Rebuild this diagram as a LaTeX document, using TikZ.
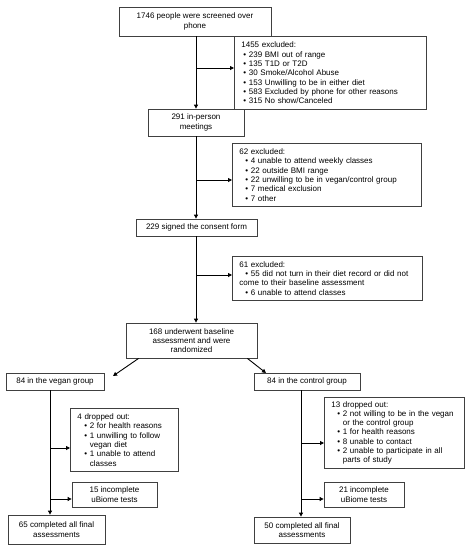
\documentclass[tikz,border=0pt]{standalone}
\usepackage{fontspec}
\setmainfont{Liberation Sans}
\usetikzlibrary{arrows.meta}
\newcommand{\bul}[1][6pt]{\hspace*{#1}\textbullet\ }
\newcommand{\cnt}[1][6pt]{\hspace*{#1}\phantom{\textbullet\ }}

\begin{document}
\begin{tikzpicture}[x=1pt,y=-1pt,
	box/.style={draw=black!75, line width=0.8pt, fill=white, inner sep=2pt, align=center,
		font=\fontsize{8}{9.3}\selectfont},
	list/.style={box, anchor=north west, align=left, inner xsep=7pt},
	arr/.style={-{Triangle[length=4pt,width=4pt]}, line width=0.9pt}]
	\useasboundingbox[fill=white] (0,0) rectangle (471,550);
	% main column
	\node[box, minimum width=152pt, minimum height=29pt] (screen) at (195,21.5) {1746 people were screened over\\phone};
	\node[list, text width=178pt, minimum height=73pt] (exA) at (234,36) {1455 excluded:\\
		\bul[2pt]239 BMI out of range\\
		\bul[2pt]135 T1D or T2D\\
		\bul[2pt]30 Smoke/Alcohol Abuse\\
		\bul[2pt]153 Unwilling to be in either diet\\
		\bul[2pt]583 Excluded by phone for other reasons\\
		\bul[2pt]315 No show/Canceled};
	\node[box, minimum width=96pt, minimum height=27pt] (meet) at (196,122.5) {291 in-person\\meetings};
	\node[list, text width=175pt, minimum height=63pt] (exB) at (232,143) {62 excluded:\\
		\bul 4 unable to attend weekly classes\\
		\bul 22 outside BMI range\\
		\bul 22 unwilling to be in vegan/control group\\
		\bul 7 medical exclusion\\
		\bul 7 other};
	\node[box, minimum width=121pt, minimum height=17pt] (consent) at (196.5,227.5) {229 signed the consent form};
	\node[list, text width=176pt, minimum height=44pt] (exC) at (232,256) {61 excluded:\\
		\bul 55 did not turn in their diet record or did not\\
		come to their baseline assessment\\
		\bul 6 unable to attend classes};
	\node[box, minimum width=131pt, minimum height=35pt] (rand) at (191.5,340.5) {168 underwent baseline\\assessment and were\\randomized};
	\coordinate (jA) at (196,68);
	\coordinate (jB) at (196,180);
	\coordinate (jC) at (196,275);
	\draw[arr] (screen.south -| jA) -- (meet.north -| jA);
	\draw[arr] (jA) -- (jA -| exA.west);
	\draw[arr] (meet.south -| jB) -- (consent.north -| jB);
	\draw[arr] (jB) -- (jB -| exB.west);
	\draw[arr] (consent.south -| jC) -- (rand.north -| jC);
	\draw[arr] (jC) -- (jC -| exC.west);
	% vegan group
	\node[box, minimum width=98pt, minimum height=17pt] (vegan) at (55,381.5) {84 in the vegan group};
	\node[list, text width=94pt, minimum height=63pt] (vdrop) at (70,408) {4 dropped out:\\
		\bul[7pt]2 for health reasons\\
		\bul[7pt]1 unwilling to follow\\
		\cnt[7pt]vegan diet\\
		\bul[7pt]1 unable to attend\\
		\cnt[7pt]classes};
	\node[box, minimum width=85pt, minimum height=25pt] (vinc) at (114.5,494.5) {15 incomplete\\uBiome tests};
	\node[box, minimum width=97pt, minimum height=29pt] (vfin) at (56.5,529.5) {65 completed all final\\assessments};
	\coordinate (vA) at (50,448);
	\coordinate (vB) at (50,499);
	\draw[arr] (vegan.south -| vA) -- (vfin.north -| vA);
	\draw[arr] (vA) -- (vA -| vdrop.west);
	\draw[arr] (vB) -- (vB -| vinc.west);
	% control group
	\node[box, minimum width=106pt, minimum height=17pt] (control) at (307,381.5) {84 in the control group};
	\node[list, text width=126pt, minimum height=71pt] (cdrop) at (324,397) {13 dropped out:\\
		\bul 2 not willing to be in the vegan\\
		\cnt or the control group\\
		\bul 1 for health reasons\\
		\bul 8 unable to contact\\
		\bul 2 unable to participate in all\\
		\cnt parts of study};
	\node[box, minimum width=80pt, minimum height=25pt] (cinc) at (364,494.5) {21 incomplete\\uBiome tests};
	\node[box, minimum width=96pt, minimum height=26pt] (cfin) at (302,530) {50 completed all final\\assessments};
	\coordinate (cA) at (301,443);
	\coordinate (cB) at (301,499);
	\draw[arr] (control.south -| cA) -- (cfin.north -| cA);
	\draw[arr] (cA) -- (cA -| cdrop.west);
	\draw[arr] (cB) -- (cB -| cinc.west);
	% randomization
	\coordinate (vtip) at (113,376);
	\coordinate (ctip) at (266,373);
	\draw[arr] ([xshift=13pt]rand.south west) -- (vtip);
	\draw[arr] ([xshift=-10pt]rand.south east) -- (ctip);
\end{tikzpicture}
\end{document}
